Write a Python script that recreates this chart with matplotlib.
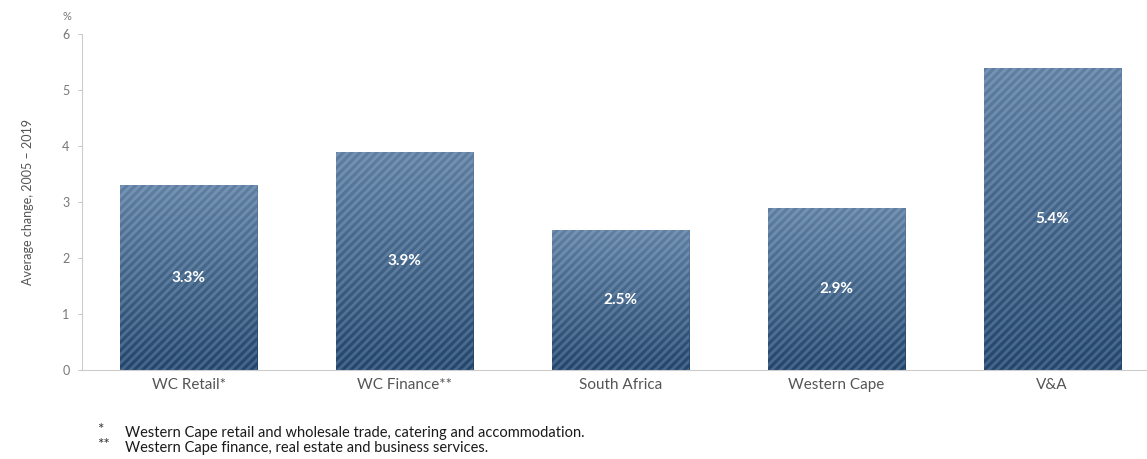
import numpy as np
import matplotlib
matplotlib.use("Agg")
import matplotlib.pyplot as plt
from matplotlib.colors import LinearSegmentedColormap

categories = ["WC Retail*", "WC Finance**", "South Africa", "Western Cape", "V&A"]
values = [3.3, 3.9, 2.5, 2.9, 5.4]
value_labels = ["3.3%", "3.9%", "2.5%", "2.9%", "5.4%"]
yticks = [0, 1, 2, 3, 4, 5, 6]
footnotes = [
    ("*", "Western Cape retail and wholesale trade, catering and accommodation."),
    ("**", "Western Cape finance, real estate and business services."),
]

plt.rcParams["font.family"] = ["Lato", "DejaVu Sans"]
plt.rcParams["hatch.linewidth"] = 2.0

fig = plt.figure(figsize=(11.47, 4.59), dpi=100)
ax = fig.add_axes([82 / 1147, 1 - 370 / 459, 1 - 82 / 1147, (370 - 34) / 459])

ax.set_ylim(0, 6)
ax.set_xlim(-0.495, 4.44)

cmap = LinearSegmentedColormap.from_list("bar", ["#22466c", "#5f80a2"])
grad = np.linspace(0, 1, 256).reshape(-1, 1)
width = 0.635

for i, v in enumerate(values):
    x0 = i - width / 2
    im = ax.imshow(grad, extent=(x0, x0 + width, 0, v), origin="lower",
                   cmap=cmap, aspect="auto", zorder=2, vmin=0, vmax=1)
    rect = ax.bar(i, v, width=width, color="none", linewidth=0, zorder=2)[0]
    im.set_clip_path(rect)
    ax.bar(i, v, width=width, facecolor="none", edgecolor=(0.85, 0.9, 1.0, 0.2),
           linewidth=0, hatch="////", zorder=3)
    ax.text(i, v / 2, value_labels[i], ha="center", va="center", color="white",
            fontsize=11, fontweight="bold", zorder=4)

ax.set_yticks(yticks)
ax.set_yticklabels([str(t) for t in yticks], color="#777777", fontsize=9)
ax.set_xticks(range(len(categories)))
ax.set_xticklabels(categories, color="#555555", fontsize=11)
ax.tick_params(axis="x", length=0, pad=6)
ax.tick_params(axis="y", length=3, width=0.6, color="#bbbbbb", pad=6)

for s in ["top", "right"]:
    ax.spines[s].set_visible(False)
ax.spines["left"].set_color("#cccccc")
ax.spines["left"].set_linewidth(0.8)
ax.spines["bottom"].set_color("#cccccc")
ax.spines["bottom"].set_linewidth(0.8)

ax.set_ylabel("Average change, 2005 – 2019", color="#555555", fontsize=9, labelpad=20)
fig.text(67 / 1147, 1 - 16 / 459, "%", color="#777777", fontsize=8, ha="center", va="center")

for k, (mark, note) in enumerate(footnotes):
    y = 1 - (433 + 15 * k) / 459
    fig.text(97 / 1147, y + 0.006, mark, color="#333333", fontsize=11, ha="left", va="center")
    fig.text(125 / 1147, y, note, color="#1a1a1a", fontsize=10.5, ha="left", va="center")

fig.savefig("out.png", dpi=100)
